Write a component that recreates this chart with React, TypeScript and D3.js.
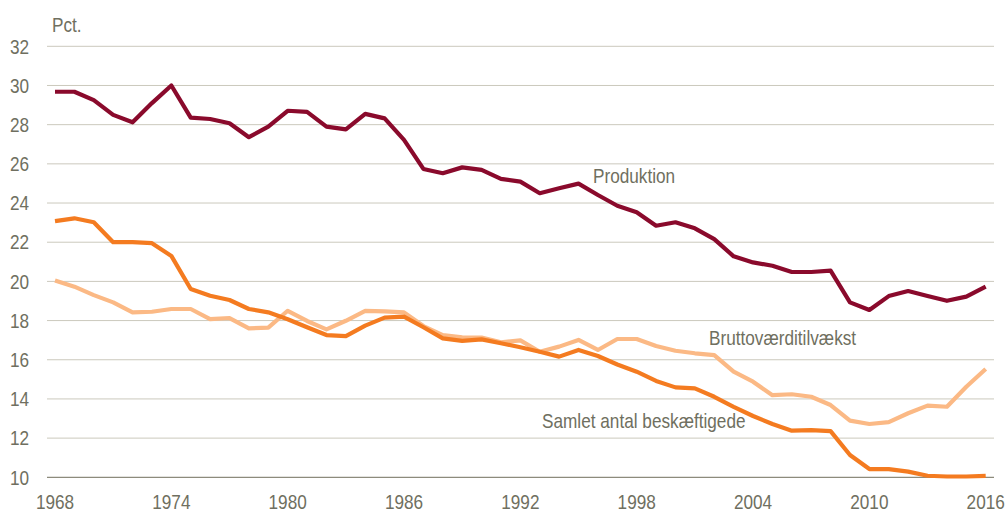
import React from "react";
import * as d3 from "d3";

const years: number[] = d3.range(1968, 2017);

const produktion: number[] = [
  29.68, 29.68, 29.25, 28.5, 28.12, 29.1, 30.0, 28.36, 28.29, 28.07,
  27.36, 27.9, 28.71, 28.65, 27.9, 27.76, 28.55, 28.32, 27.22, 25.74,
  25.52, 25.82, 25.69, 25.23, 25.09, 24.5, 24.75, 24.99, 24.41, 23.86,
  23.53, 22.84, 23.02, 22.71, 22.16, 21.28, 20.97, 20.8, 20.48, 20.48,
  20.55, 18.93, 18.54, 19.25, 19.51, 19.25, 19.01, 19.22, 19.73,
];

const beskaeftigede: number[] = [
  23.08, 23.22, 23.02, 22.0, 22.0, 21.95, 21.3, 19.61, 19.27, 19.05,
  18.59, 18.42, 18.07, 17.66, 17.26, 17.21, 17.74, 18.15, 18.2, 17.66,
  17.09, 16.96, 17.04, 16.84, 16.64, 16.41, 16.16, 16.5, 16.19, 15.76,
  15.39, 14.92, 14.59, 14.54, 14.11, 13.6, 13.13, 12.72, 12.38, 12.41,
  12.36, 11.14, 10.42, 10.42, 10.29, 10.08, 10.04, 10.04, 10.07,
];

const brutto: number[] = [
  20.04, 19.73, 19.3, 18.93, 18.42, 18.45, 18.59, 18.59, 18.07, 18.13,
  17.6, 17.64, 18.5, 17.98, 17.55, 17.99, 18.49, 18.47, 18.42, 17.72,
  17.26, 17.15, 17.13, 16.89, 16.99, 16.41, 16.67, 17.01, 16.5, 17.06,
  17.06, 16.7, 16.46, 16.33, 16.24, 15.39, 14.88, 14.19, 14.24, 14.11,
  13.69, 12.89, 12.72, 12.82, 13.27, 13.66, 13.6, 14.62, 15.53,
];

const yTicks: number[] = [10, 12, 14, 16, 18, 20, 22, 24, 26, 28, 30, 32];
const xTicks: number[] = [1968, 1974, 1980, 1986, 1992, 1998, 2004, 2010, 2016];

const seriesNames = ["Produktion", "Bruttoværditilvækst", "Samlet antal beskæftigede"];

const W = 1006;
const H = 512;
const FONT = "'Liberation Sans', Arial, sans-serif";
const TXT = "#6f6f60";
const SX = 0.86;

function Txt(props: { x: number; y: number; anchor?: string; dy?: string; children: React.ReactNode }) {
  return (
    <text
      transform={`translate(${props.x},${props.y}) scale(${SX},1)`}
      textAnchor={props.anchor || "start"}
      dy={props.dy}
      fontSize={20}
      fill={TXT}
    >
      {props.children}
    </text>
  );
}

export default function App() {
  const x = d3.scaleLinear().domain([1968, 2016]).range([55, 985.7]);
  const y = d3.scaleLinear().domain([10, 32]).range([477.3, 46.3]);
  const line = d3
    .line<number>()
    .x((_, i) => x(years[i]))
    .y((d) => y(d))
    .curve(d3.curveLinear);

  const series = [
    { name: seriesNames[1], data: brutto, color: "#fbb985" },
    { name: seriesNames[2], data: beskaeftigede, color: "#f47b20" },
    { name: seriesNames[0], data: produktion, color: "#8a0a2c" },
  ];

  return (
    <svg
      width={W}
      height={H}
      style={{ position: "absolute", left: 0, top: 0, background: "#fff" }}
      fontFamily={FONT}
    >
      {yTicks.map((t) => (
        <line
          key={"g" + t}
          x1={47}
          x2={994}
          y1={y(t)}
          y2={y(t)}
          stroke={t === 10 ? "#8d8b7c" : "#cbc9bd"}
          strokeWidth={t === 10 ? 1.3 : 1}
        />
      ))}
      {yTicks.map((t) => (
        <Txt key={"yt" + t} x={29} y={y(t)} dy="0.36em" anchor="end">
          {t}
        </Txt>
      ))}
      {xTicks.map((t) => (
        <Txt key={"xt" + t} x={x(t)} y={509} anchor="middle">
          {t}
        </Txt>
      ))}
      <Txt x={52} y={32}>Pct.</Txt>
      {series.map((s) => (
        <path
          key={s.name}
          d={line(s.data) || ""}
          fill="none"
          stroke={s.color}
          strokeWidth={4.2}
          strokeLinejoin="round"
        />
      ))}
      <Txt x={593} y={183}>{seriesNames[0]}</Txt>
      <Txt x={709} y={345}>{seriesNames[1]}</Txt>
      <Txt x={542} y={428}>{seriesNames[2]}</Txt>
    </svg>
  );
}
